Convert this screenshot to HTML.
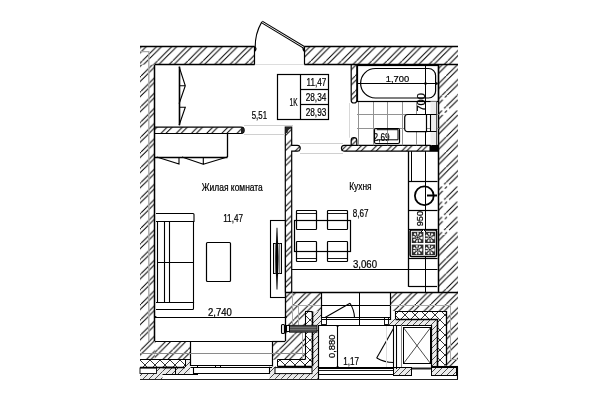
<!DOCTYPE html>
<html><head><meta charset="utf-8"><style>
html,body{margin:0;padding:0;background:#fff;width:600px;height:400px;overflow:hidden}
svg{display:block}
text{font-family:"Liberation Sans",sans-serif} svg{will-change:transform}
</style></head><body>
<svg width="600" height="400" viewBox="0 0 600 400">
<defs>
<pattern id="h" patternUnits="userSpaceOnUse" x="5.6" y="0" width="15.2" height="15.2">
<path d="M-1,16.2 L16.2,-1 M3.9,16.2 L21.1,-1 M-11.3,16.2 L5.9,-1" stroke="#000" stroke-width="1.0"/>
</pattern>
<pattern id="hL" patternUnits="userSpaceOnUse" x="4.3" y="0" width="15.2" height="15.2">
<path d="M-1,16.2 L16.2,-1 M3.6,16.2 L20.8,-1 M-11.6,16.2 L5.6,-1" stroke="#000" stroke-width="1.0"/>
</pattern>
<pattern id="hR" patternUnits="userSpaceOnUse" x="7.0" y="0" width="15.2" height="15.2">
<path d="M-1,16.2 L16.2,-1 M4,16.2 L21.2,-1 M-11.2,16.2 L6,-1" stroke="#000" stroke-width="1.0"/>
</pattern>
<pattern id="hR2" patternUnits="userSpaceOnUse" x="5.4" y="0" width="15.2" height="15.2">
<path d="M-1,16.2 L16.2,-1 M4,16.2 L21.2,-1 M-11.2,16.2 L6,-1" stroke="#000" stroke-width="1.0"/>
</pattern>
<pattern id="hd" patternUnits="userSpaceOnUse" x="5.4" y="0" width="15.2" height="15.2">
<path d="M-1,16.2 L16.2,-1 M-11.2,16.2 L6,-1" stroke="#000" stroke-width="1.0" stroke-dasharray="17 3 20"/>
<path d="M4,16.2 L21.2,-1" stroke="#000" stroke-width="1.0" stroke-dasharray="11 3 20"/>
</pattern>
<pattern id="h2" patternUnits="userSpaceOnUse" x="0" y="0" width="7" height="7">
<path d="M-1,8 L8,-1 M-8,8 L1,-1 M6,8 L15,-1" stroke="#000" stroke-width="0.9"/>
</pattern>
<pattern id="h3" patternUnits="userSpaceOnUse" x="0" y="0" width="6" height="6">
<rect width="6" height="6" fill="#ebebeb"/><path d="M-1,7 L7,-1 M-7,7 L1,-1 M5,7 L13,-1" stroke="#222" stroke-width="0.8"/>
</pattern>
<pattern id="dots" patternUnits="userSpaceOnUse" x="0" y="0" width="3" height="3">
<rect width="3" height="3" fill="#222"/><rect x="1" y="1" width="2" height="2" fill="#d8d8d8"/>
</pattern>
<pattern id="xi" patternUnits="userSpaceOnUse" x="0" y="0" width="10" height="10">
<path d="M0,0 L10,10 M10,0 L0,10" stroke="#000" stroke-width="0.8"/>
</pattern>
</defs>
<rect width="600" height="400" fill="#fff"/>
<rect x="140" y="46.4" width="114.6" height="18.3" fill="url(#h)"/>
<rect x="140" y="64.7" width="14.8" height="295" fill="url(#hL)"/>
<rect x="154.8" y="341" width="35.5" height="19" fill="url(#h)"/>
<rect x="304.4" y="46.4" width="153.6" height="18.1" fill="url(#hR)"/>
<rect x="438.7" y="64.5" width="19.3" height="30.5" fill="url(#hR2)"/>
<rect x="438.7" y="95" width="19.3" height="23" fill="url(#hd)"/>
<rect x="438.7" y="118" width="19.3" height="62" fill="url(#hR2)"/>
<rect x="438.7" y="180" width="19.3" height="55" fill="url(#hd)"/>
<rect x="438.7" y="235" width="19.3" height="58" fill="url(#hR2)"/>
<rect x="154.8" y="127.2" width="89.2" height="6.3" fill="url(#h)"/>
<rect x="285.3" y="127.2" width="6.4" height="165.3" fill="url(#h)"/>
<rect x="291.7" y="145.3" width="8.3" height="5.9" fill="url(#h)"/>
<rect x="341.5" y="145.3" width="88" height="5.9" fill="url(#h)"/>
<rect x="351.2" y="64.5" width="5.6" height="38.5" fill="url(#h)"/>
<rect x="351.2" y="137.7" width="5.6" height="7.6" fill="url(#h)"/>
<line x1="140" y1="46.5" x2="254.6" y2="46.5" stroke="#000" stroke-width="1.3" />
<line x1="254.5" y1="46.4" x2="254.5" y2="64.7" stroke="#000" stroke-width="1.2" />
<line x1="154.8" y1="64.5" x2="254.6" y2="64.5" stroke="#000" stroke-width="1.5" />
<line x1="154.5" y1="64.7" x2="154.5" y2="341" stroke="#000" stroke-width="1.5" />
<line x1="304.4" y1="46.5" x2="458" y2="46.5" stroke="#000" stroke-width="1.3" />
<line x1="304.5" y1="46.4" x2="304.5" y2="64.5" stroke="#000" stroke-width="1.2" />
<line x1="304.4" y1="64.5" x2="458" y2="64.5" stroke="#000" stroke-width="1.5" />
<line x1="438.5" y1="64.5" x2="438.5" y2="293" stroke="#000" stroke-width="1.5" />
<path d="M140,51.6 H148.8 V341" fill="none" stroke="#aaaaaa" stroke-width="1.4" />
<line x1="255" y1="64.5" x2="304" y2="64.5" stroke="#ddd" stroke-width="1" />
<path d="M254.6,47 q2.6,1.5 0,4.2" fill="none" stroke="#000" stroke-width="1.4" />
<path d="M304.4,47 q-2.6,1.5 0,4.2" fill="none" stroke="#000" stroke-width="1.4" />
<path d="M154.8,127.2 H241 A3.15,3.15 0 0 1 241,133.5 H154.8" fill="none" stroke="#000" stroke-width="1.2" />
<path d="M241,127.2 A3.15,3.15 0 0 1 241,133.5 Z" fill="#222"/>
<path d="M285.3,292.5 V127.2 H291.7 V145.3 H297.3 A2.95,2.95 0 0 1 297.3,151.2 H291.7 V292.5" fill="none" stroke="#000" stroke-width="1.2" />
<path d="M285.3,127.2 H291.7 V128.5 Q288,128.5 287.5,133 L285.3,133 Z" fill="#222"/>
<line x1="244" y1="125.5" x2="293" y2="125.5" stroke="#d0d0d0" stroke-width="1" />
<line x1="244" y1="134.5" x2="285" y2="134.5" stroke="#d0d0d0" stroke-width="1" />
<line x1="300" y1="143.5" x2="343" y2="143.5" stroke="#d0d0d0" stroke-width="1" />
<line x1="300" y1="153.5" x2="343" y2="153.5" stroke="#d0d0d0" stroke-width="1" />
<path d="M344.4,145.3 H438.7 M344.4,151.2 H438.7 M344.4,145.3 A2.95,2.95 0 0 0 344.4,151.2" fill="none" stroke="#000" stroke-width="1.2" />
<rect x="429.5" y="145.3" width="9.2" height="5.9" fill="#000"/>
<path d="M351.2,64.5 V100.2 A2.8,2.8 0 0 0 356.8,100.2 V64.5" fill="none" stroke="#000" stroke-width="1.2" />
<path d="M351.2,145.3 V140.5 A2.8,2.8 0 0 1 356.8,140.5 V145.3" fill="none" stroke="#000" stroke-width="1.2" />
<line x1="349.5" y1="103" x2="349.5" y2="137.7" stroke="#d8d8d8" stroke-width="1" />
<path d="M261.8,21.9 L303.9,47.3" fill="none" stroke="#000" stroke-width="2.8" />
<path d="M261.8,21.9 L303.9,47.3" fill="none" stroke="#fff" stroke-width="0.9" />
<path d="M261.8,21.9 A49,49 0 0 0 255.2,47.8" fill="none" stroke="#000" stroke-width="1.1" />
<line x1="179.5" y1="66.7" x2="179.5" y2="125.2" stroke="#000" stroke-width="1.6" />
<path d="M179.1,66.7 L185.3,85.8 L179.1,103.8 M179.1,85.8 H185.3" fill="none" stroke="#000" stroke-width="1.1" />
<path d="M179.1,125.2 L185.3,107.2 H179.1" fill="none" stroke="#000" stroke-width="1.1" />
<line x1="227.5" y1="133.5" x2="227.5" y2="157" stroke="#000" stroke-width="1.3" />
<line x1="154.8" y1="157.5" x2="227.5" y2="157.5" stroke="#000" stroke-width="1.7" />
<path d="M156.75,157 L179,164 V157 M182,157 L203.3,164.3 V157 M203.3,164.3 L227.3,157" fill="none" stroke="#000" stroke-width="1.1" />
<rect x="277.5" y="74.5" width="51.0" height="45.0" rx="0" fill="none" stroke="#000" stroke-width="1.2" />
<line x1="300.5" y1="74.1" x2="300.5" y2="119.2" stroke="#000" stroke-width="1.2" />
<line x1="300.6" y1="89.5" x2="328.1" y2="89.5" stroke="#000" stroke-width="1.2" />
<line x1="300.6" y1="104.5" x2="328.1" y2="104.5" stroke="#000" stroke-width="1.2" />
<text x="326.3" y="85.5" font-size="10.1" text-anchor="end" textLength="19.8" lengthAdjust="spacingAndGlyphs" fill="#000" stroke="#000" stroke-width="0.22" >11,47</text>
<text x="326.3" y="100.5" font-size="10.1" text-anchor="end" textLength="20.6" lengthAdjust="spacingAndGlyphs" fill="#000" stroke="#000" stroke-width="0.22" >28,34</text>
<text x="326.3" y="115.5" font-size="10.1" text-anchor="end" textLength="20.6" lengthAdjust="spacingAndGlyphs" fill="#000" stroke="#000" stroke-width="0.22" >28,93</text>
<text x="289.6" y="105.5" font-size="10.1" textLength="8.0" lengthAdjust="spacingAndGlyphs" fill="#000" stroke="#000" stroke-width="0.22" >1K</text>
<text x="251.75" y="118.75" font-size="10.2" textLength="15.25" lengthAdjust="spacingAndGlyphs" fill="#000" stroke="#000" stroke-width="0.22" >5,51</text>
<text x="201.8" y="190.6" font-size="10.1" textLength="61.0" lengthAdjust="spacingAndGlyphs" fill="#000" stroke="#000" stroke-width="0.22" >Жилая комната</text>
<text x="349.2" y="190.4" font-size="10.0" textLength="22.4" lengthAdjust="spacingAndGlyphs" fill="#000" stroke="#000" stroke-width="0.22" >Кухня</text>
<text x="223.2" y="221.6" font-size="10.1" textLength="19.8" lengthAdjust="spacingAndGlyphs" fill="#000" stroke="#000" stroke-width="0.22" >11,47</text>
<text x="352.75" y="216.5" font-size="10.2" textLength="15.75" lengthAdjust="spacingAndGlyphs" fill="#000" stroke="#000" stroke-width="0.22" >8,67</text>
<text x="208" y="316" font-size="10.5" textLength="23.9" lengthAdjust="spacingAndGlyphs" fill="#000" stroke="#000" stroke-width="0.22" >2,740</text>
<text x="385.8" y="82" font-size="9.95" textLength="23.4" lengthAdjust="spacingAndGlyphs" fill="#000" stroke="#000" stroke-width="0.22" >1,700</text>
<text x="353" y="267.7" font-size="10.2" textLength="24" lengthAdjust="spacingAndGlyphs" fill="#000" stroke="#000" stroke-width="0.22" >3,060</text>
<text x="343.2" y="364.9" font-size="10" textLength="15.8" lengthAdjust="spacingAndGlyphs" fill="#000" stroke="#000" stroke-width="0.22" >1,17</text>
<text x="373.6" y="141.2" font-size="10" textLength="16" lengthAdjust="spacingAndGlyphs" fill="#000" stroke="#000" stroke-width="0.22" >2,69</text>
<text x="424.6" y="111.6" font-size="10" textLength="18.6" lengthAdjust="spacingAndGlyphs" transform="rotate(-90 424.6 111.6)" fill="#000" stroke="#000" stroke-width="0.22" >700</text>
<text x="423.5" y="226.2" font-size="9.5" textLength="15.2" lengthAdjust="spacingAndGlyphs" transform="rotate(-90 423.5 226.2)" fill="#000" stroke="#000" stroke-width="0.22" >950</text>
<text x="335.0" y="358.0" font-size="9.6" textLength="23.4" lengthAdjust="spacingAndGlyphs" transform="rotate(-90 335.0 358.0)" fill="#000" stroke="#000" stroke-width="0.22" >0,880</text>
<line x1="358.5" y1="101" x2="358.5" y2="145.3" stroke="#929292" stroke-width="1" />
<line x1="373.5" y1="101" x2="373.5" y2="145.3" stroke="#929292" stroke-width="1" />
<line x1="387.5" y1="101" x2="387.5" y2="145.3" stroke="#929292" stroke-width="1" />
<line x1="402.5" y1="101" x2="402.5" y2="145.3" stroke="#929292" stroke-width="1" />
<line x1="416.5" y1="101" x2="416.5" y2="145.3" stroke="#929292" stroke-width="1" />
<line x1="431.5" y1="101" x2="431.5" y2="145.3" stroke="#929292" stroke-width="1" />
<line x1="357" y1="114.5" x2="438.7" y2="114.5" stroke="#929292" stroke-width="1" />
<line x1="357" y1="128.5" x2="438.7" y2="128.5" stroke="#929292" stroke-width="1" />
<rect x="357.5" y="65.5" width="81.0" height="36.0" rx="0" fill="none" stroke="#000" stroke-width="1.2" />
<path d="M375.35,68.5 H428.6 A7,7 0 0 1 435.6,75.5 V91 A7,7 0 0 1 428.6,98 H375.35 A14.75,14.75 0 0 1 375.35,68.5 Z" fill="none" stroke="#000" stroke-width="1.2" />
<line x1="357" y1="83.5" x2="437" y2="83.5" stroke="#000" stroke-width="1.1" />
<line x1="425.5" y1="64.5" x2="425.5" y2="145.3" stroke="#000" stroke-width="1.0" />
<circle cx="425.5" cy="83.5" r="1.3" fill="#000"/>
<circle cx="436.5" cy="83.5" r="1.3" fill="#000"/>
<path d="M407.7,114.5 H426.5 V131.7 H407.7 A3,3 0 0 1 404.7,128.7 V117.5 A3,3 0 0 1 407.7,114.5 Z" fill="#fff" stroke="#000" stroke-width="1.2" />
<rect x="430.5" y="101.5" width="6" height="43.5" fill="#eee"/>
<line x1="430.5" y1="114.5" x2="430.5" y2="131.7" stroke="#000" stroke-width="1.1" />
<line x1="436.5" y1="101" x2="436.5" y2="145" stroke="#555" stroke-width="1.0" />
<line x1="426.5" y1="114.5" x2="436.5" y2="114.5" stroke="#000" stroke-width="1" />
<line x1="426.5" y1="131.5" x2="436.5" y2="131.5" stroke="#000" stroke-width="1" />
<rect x="374.5" y="128.5" width="25.0" height="15.0" rx="1.5" fill="none" stroke="#000" stroke-width="1.2" />
<path d="M376.6,129.7 H398 V139.8 H376.6" fill="none" stroke="#000" stroke-width="1.0" />
<path d="M156,213.5 H193 A1,1 0 0 1 194,214.5 V221.5 H156" fill="none" stroke="#000" stroke-width="1.1" />
<path d="M157.5,221.5 V302.5 H193.5 V221.5" fill="none" stroke="#000" stroke-width="1.1" />
<line x1="164.5" y1="221" x2="164.5" y2="302.5" stroke="#000" stroke-width="1.1" />
<line x1="169.5" y1="221" x2="169.5" y2="302.5" stroke="#000" stroke-width="1.1" />
<line x1="157.2" y1="262.5" x2="194" y2="262.5" stroke="#000" stroke-width="1.1" />
<path d="M156,302.5 H193.5 V308.5 A1,1 0 0 1 192.5,309.5 H156" fill="none" stroke="#000" stroke-width="1.1" />
<rect x="206.5" y="242.5" width="24.0" height="39.0" rx="1" fill="none" stroke="#000" stroke-width="1.2" />
<rect x="270.5" y="220.5" width="15.0" height="77.0" rx="0" fill="none" stroke="#000" stroke-width="1.1" />
<rect x="273.5" y="243.5" width="8.0" height="30.0" rx="0" fill="#e2e2e2" stroke="#000" stroke-width="1.0" />
<line x1="275.5" y1="243.5" x2="275.5" y2="273.5" stroke="#666" stroke-width="0.8" />
<line x1="279.5" y1="243.5" x2="279.5" y2="273.5" stroke="#666" stroke-width="0.8" />
<path d="M277,227.8 Q279.6,258.5 277,289.5 Q274.4,258.5 277,227.8 Z" fill="#000" stroke="#000" stroke-width="0.5" />
<line x1="155" y1="317.5" x2="286" y2="317.5" stroke="#000" stroke-width="1.1" />
<circle cx="155.5" cy="317" r="1.1" fill="#000"/>
<circle cx="285.8" cy="317" r="1.1" fill="#000"/>
<rect x="294.5" y="220.5" width="56.0" height="31.0" rx="0" fill="none" stroke="#000" stroke-width="1.2" />
<rect x="296.5" y="210.5" width="20.0" height="19.0" rx="0.8" fill="none" stroke="#000" stroke-width="1.2" />
<line x1="296.4" y1="213.5" x2="316.2" y2="213.5" stroke="#000" stroke-width="0.9" />
<rect x="296.5" y="241.5" width="20.0" height="20.0" rx="0.8" fill="none" stroke="#000" stroke-width="1.2" />
<line x1="296.4" y1="258.5" x2="316.2" y2="258.5" stroke="#000" stroke-width="0.9" />
<rect x="327.5" y="210.5" width="20.0" height="19.0" rx="0.8" fill="none" stroke="#000" stroke-width="1.2" />
<line x1="327.4" y1="213.5" x2="347.2" y2="213.5" stroke="#000" stroke-width="0.9" />
<rect x="327.5" y="241.5" width="20.0" height="20.0" rx="0.8" fill="none" stroke="#000" stroke-width="1.2" />
<line x1="327.4" y1="258.5" x2="347.2" y2="258.5" stroke="#000" stroke-width="0.9" />
<line x1="291.7" y1="269.5" x2="437.5" y2="269.5" stroke="#000" stroke-width="1.1" />
<line x1="408.5" y1="151.2" x2="408.5" y2="286.9" stroke="#000" stroke-width="1.3" />
<line x1="411.5" y1="151.2" x2="411.5" y2="181" stroke="#000" stroke-width="1.0" />
<line x1="425.5" y1="151.2" x2="425.5" y2="292.7" stroke="#000" stroke-width="1.0" />
<line x1="409" y1="181.5" x2="437.5" y2="181.5" stroke="#000" stroke-width="1.2" />
<line x1="409" y1="210.5" x2="437.5" y2="210.5" stroke="#000" stroke-width="1.2" />
<line x1="409" y1="229.5" x2="437.5" y2="229.5" stroke="#000" stroke-width="1.2" />
<line x1="409" y1="258.5" x2="437.5" y2="258.5" stroke="#000" stroke-width="1.2" />
<line x1="408.9" y1="286.5" x2="437" y2="286.5" stroke="#000" stroke-width="1.2" />
<circle cx="424.3" cy="195.7" r="9.4" fill="none" stroke="#000" stroke-width="1.8"/>
<line x1="427" y1="195.5" x2="437" y2="195.5" stroke="#000" stroke-width="2" />
<rect x="410.1" y="230.1" width="26.5" height="26.5" rx="1.5" fill="#fff" stroke="#000" stroke-width="1.5"/>
<rect x="411.8" y="231.8" width="11.6" height="11.2" fill="#2e2e2e"/>
<rect x="425.0" y="231.8" width="10.2" height="11.2" fill="#2e2e2e"/>
<rect x="411.8" y="244.6" width="11.6" height="10.4" fill="#2e2e2e"/>
<rect x="425.0" y="244.6" width="10.2" height="10.4" fill="#2e2e2e"/>
<circle cx="417.6" cy="237.4" r="3.9000000000000004" fill="none" stroke="#f4f4f4" stroke-width="2.4" stroke-dasharray="1.6 1.3"/>
<circle cx="417.6" cy="237.4" r="1.5" fill="#222" stroke="#e8e8e8" stroke-width="0.8"/>
<circle cx="429.9" cy="237.4" r="3.5" fill="none" stroke="#f4f4f4" stroke-width="2.4" stroke-dasharray="1.6 1.3"/>
<circle cx="429.9" cy="237.4" r="1.5" fill="#222" stroke="#e8e8e8" stroke-width="0.8"/>
<circle cx="417.6" cy="249.8" r="3.5" fill="none" stroke="#f4f4f4" stroke-width="2.4" stroke-dasharray="1.6 1.3"/>
<circle cx="417.6" cy="249.8" r="1.5" fill="#222" stroke="#e8e8e8" stroke-width="0.8"/>
<circle cx="429.9" cy="249.8" r="3.5" fill="none" stroke="#f4f4f4" stroke-width="2.4" stroke-dasharray="1.6 1.3"/>
<circle cx="429.9" cy="249.8" r="1.5" fill="#222" stroke="#e8e8e8" stroke-width="0.8"/>
<path d="M421,232 L423.5,229.5 L426,232" fill="#fff" stroke="#000" stroke-width="1" />
<path d="M285.3,292.5 L321.5,292.5 L321.5,311.5 L305,311.5 L305,359.7 L272.3,359.7 L272.3,341 L285.3,341 Z" fill="url(#h)"/>
<path d="M390.3,292.7 L458,292.7 L458,367 L446,367 L446,311 L390.3,311 Z" fill="url(#h)"/>
<path d="M311.5,311.5 L321.5,311.5 L321.5,325 L318,325 L318,378.8 L269.5,378.8 L269.5,366.4 L311.5,366.4 Z" fill="url(#h3)"/>
<path d="M388,319 L437.5,319 L437.5,367 L431,367 L431,325 L388,325 Z" fill="url(#h3)"/>
<path d="M431,367 L456,367 L456,375.5 L431,375.5 Z" fill="url(#h3)"/>
<path d="M393.5,367.5 L411,367.5 L411,375.5 L393.5,375.5 Z" fill="url(#h3)"/>
<path d="M162.5,367.5 L175,367.5 L175,374 L162.5,374 Z" fill="url(#h3)"/>
<path d="M140,373.5 L157,373.5 L157,367.5 L162.5,367.5 L162.5,379 L140,379 Z" fill="url(#h3)"/>
<path d="M185,359.5 L190,359.5 L190,374 L176,374 L176,367.5 L185,367.5 Z" fill="url(#h3)"/>
<rect x="275" y="367.6" width="37" height="6" fill="#fff" stroke="#000" stroke-width="1"/>
<rect x="140" y="368" width="16.5" height="5.5" fill="#fff" stroke="#000" stroke-width="0.9"/>
<rect x="305" y="311.5" width="6.5" height="54.9" fill="url(#xi)"/>
<rect x="277.4" y="359.7" width="34.1" height="6.7" fill="url(#xi)"/>
<rect x="140" y="359.5" width="45" height="7.5" fill="url(#xi)"/>
<rect x="395.5" y="311" width="50.5" height="8" fill="url(#xi)"/>
<rect x="437.5" y="319" width="8.5" height="46.5" fill="url(#xi)"/>
<line x1="285.3" y1="292.5" x2="458" y2="292.5" stroke="#000" stroke-width="1.3" />
<line x1="321.5" y1="292.5" x2="321.5" y2="318" stroke="#000" stroke-width="1.2" />
<line x1="390.5" y1="292.7" x2="390.5" y2="320" stroke="#000" stroke-width="1.2" />
<line x1="285.5" y1="292.5" x2="285.5" y2="341" stroke="#000" stroke-width="1.3" />
<line x1="272.3" y1="341.5" x2="285.3" y2="341.5" stroke="#000" stroke-width="1.2" />
<line x1="272.5" y1="341" x2="272.5" y2="366.4" stroke="#000" stroke-width="1.2" />
<line x1="154.8" y1="341.5" x2="190.3" y2="341.5" stroke="#000" stroke-width="1.2" />
<line x1="190.5" y1="341" x2="190.5" y2="366" stroke="#000" stroke-width="1.2" />
<line x1="190.3" y1="341.5" x2="272.3" y2="341.5" stroke="#000" stroke-width="1.1" />
<line x1="305" y1="311.5" x2="312" y2="311.5" stroke="#000" stroke-width="1.1" />
<line x1="305.5" y1="311.5" x2="305.5" y2="359.7" stroke="#000" stroke-width="1.1" />
<line x1="312.5" y1="311.5" x2="312.5" y2="366.4" stroke="#000" stroke-width="1.6" />
<line x1="277.4" y1="366.5" x2="312" y2="366.5" stroke="#000" stroke-width="1.6" />
<line x1="277.4" y1="359.5" x2="305" y2="359.5" stroke="#000" stroke-width="1.0" />
<line x1="277.5" y1="359.7" x2="277.5" y2="366.4" stroke="#000" stroke-width="1.0" />
<line x1="318.5" y1="325" x2="318.5" y2="379" stroke="#000" stroke-width="1.2" />
<line x1="140" y1="359.5" x2="190.3" y2="359.5" stroke="#000" stroke-width="1.1" />
<line x1="140" y1="367.5" x2="185" y2="367.5" stroke="#000" stroke-width="1.5" />
<line x1="185.5" y1="359.5" x2="185.5" y2="367" stroke="#000" stroke-width="1.0" />
<line x1="395.5" y1="311.5" x2="446" y2="311.5" stroke="#000" stroke-width="1.1" />
<line x1="395.5" y1="311" x2="395.5" y2="319" stroke="#000" stroke-width="1.1" />
<line x1="446.5" y1="311" x2="446.5" y2="365.5" stroke="#000" stroke-width="1.3" />
<line x1="395.5" y1="319.5" x2="437.5" y2="319.5" stroke="#000" stroke-width="1.6" />
<line x1="437.5" y1="319" x2="437.5" y2="367" stroke="#000" stroke-width="1.6" />
<line x1="388" y1="325.5" x2="431" y2="325.5" stroke="#000" stroke-width="1.2" />
<line x1="431.5" y1="325" x2="431.5" y2="367" stroke="#000" stroke-width="1.2" />
<line x1="431" y1="366.5" x2="458" y2="366.5" stroke="#000" stroke-width="1.1" />
<line x1="162.5" y1="367.5" x2="175" y2="367.5" stroke="#000" stroke-width="1.6" />
<line x1="175.5" y1="367.5" x2="175.5" y2="374" stroke="#000" stroke-width="1.0" />
<line x1="162.5" y1="374.5" x2="198" y2="374.5" stroke="#000" stroke-width="1.0" />
<line x1="140" y1="353.5" x2="305" y2="353.5" stroke="#8a8a8a" stroke-width="1.2" />
<line x1="292.5" y1="292.5" x2="292.5" y2="325" stroke="#ababab" stroke-width="1" />
<line x1="292.5" y1="305.5" x2="321" y2="305.5" stroke="#ababab" stroke-width="1" />
<line x1="298.5" y1="305.5" x2="298.5" y2="325" stroke="#ababab" stroke-width="1" />
<line x1="302.5" y1="330" x2="302.5" y2="359" stroke="#ababab" stroke-width="1" />
<line x1="390.3" y1="305.5" x2="450.5" y2="305.5" stroke="#ababab" stroke-width="1" />
<line x1="450.5" y1="305.3" x2="450.5" y2="359.7" stroke="#ababab" stroke-width="1" />
<line x1="450.5" y1="359.5" x2="458" y2="359.5" stroke="#ababab" stroke-width="1" />
<line x1="190.5" y1="365.5" x2="272" y2="365.5" stroke="#000" stroke-width="1.0" />
<line x1="190.5" y1="367.5" x2="272" y2="367.5" stroke="#000" stroke-width="1.1" />
<path d="M193.5,367.5 V373.5 H269.5 V367.5" fill="none" stroke="#000" stroke-width="1.1" />
<line x1="197.5" y1="365.2" x2="197.5" y2="367.2" stroke="#000" stroke-width="1" />
<line x1="215.5" y1="365.2" x2="215.5" y2="367.2" stroke="#000" stroke-width="1" />
<line x1="220.5" y1="365.2" x2="220.5" y2="367.2" stroke="#000" stroke-width="1" />
<line x1="140" y1="379.5" x2="458" y2="379.5" stroke="#222" stroke-width="1.1" />
<line x1="457.5" y1="367" x2="457.5" y2="379" stroke="#000" stroke-width="1.1" />
<line x1="321.5" y1="305.5" x2="390.3" y2="305.5" stroke="#000" stroke-width="1.0" />
<line x1="359.5" y1="292.8" x2="359.5" y2="325" stroke="#000" stroke-width="1.0" />
<path d="M325,317.5 L350,303.3" fill="none" stroke="#000" stroke-width="1.1" />
<path d="M350,303.3 A29,29 0 0 1 354.5,317.5" fill="none" stroke="#000" stroke-width="1.1" />
<line x1="321.5" y1="317.5" x2="390.3" y2="317.5" stroke="#000" stroke-width="1.0" />
<line x1="321.5" y1="319.5" x2="390.3" y2="319.5" stroke="#000" stroke-width="1.0" />
<rect x="321.5" y="317.5" width="5.0" height="7.0" rx="0" fill="none" stroke="#000" stroke-width="0.9" />
<rect x="384.5" y="317.5" width="4.0" height="7.0" rx="0" fill="none" stroke="#000" stroke-width="0.9" />
<line x1="318" y1="325.5" x2="393.5" y2="325.5" stroke="#000" stroke-width="1.2" />
<line x1="318" y1="367.5" x2="394" y2="367.5" stroke="#000" stroke-width="1.0" />
<line x1="318" y1="368.5" x2="394" y2="368.5" stroke="#000" stroke-width="1.0" />
<line x1="318" y1="370.5" x2="393.5" y2="370.5" stroke="#000" stroke-width="0.9" />
<line x1="318" y1="374.5" x2="393.5" y2="374.5" stroke="#000" stroke-width="1.0" />
<line x1="337.5" y1="367" x2="337.5" y2="369" stroke="#000" stroke-width="1" />
<line x1="354.5" y1="367" x2="354.5" y2="369" stroke="#000" stroke-width="1" />
<line x1="358.5" y1="367" x2="358.5" y2="369" stroke="#000" stroke-width="1" />
<line x1="337.5" y1="325.5" x2="337.5" y2="367.1" stroke="#000" stroke-width="1.1" />
<circle cx="337.6" cy="326" r="1.1" fill="#000"/>
<circle cx="337.6" cy="367" r="1.1" fill="#000"/>
<path d="M393.5,328.5 L376.7,358" fill="none" stroke="#000" stroke-width="1.1" />
<path d="M376.7,358 A34,34 0 0 0 393.5,362.5" fill="none" stroke="#000" stroke-width="1.1" />
<line x1="386.5" y1="326" x2="386.5" y2="367" stroke="#ddd" stroke-width="1" />
<line x1="393.5" y1="325" x2="393.5" y2="369" stroke="#000" stroke-width="1.1" />
<line x1="396.5" y1="325" x2="396.5" y2="369" stroke="#000" stroke-width="1.1" />
<line x1="401.5" y1="325" x2="401.5" y2="367" stroke="#888" stroke-width="1.0" />
<rect x="403.5" y="327.5" width="27.0" height="36.0" rx="0" fill="none" stroke="#000" stroke-width="1.0" />
<line x1="403.5" y1="327.7" x2="430.5" y2="363.5" stroke="#000" stroke-width="0.7" />
<line x1="430.5" y1="327.7" x2="403.5" y2="363.5" stroke="#000" stroke-width="0.7" />
<line x1="411" y1="368.5" x2="431" y2="368.5" stroke="#222" stroke-width="2" />
<rect x="431.5" y="367.5" width="25.0" height="8.0" rx="0" fill="none" stroke="#000" stroke-width="1.0" />
<rect x="393.5" y="367.5" width="18.0" height="8.0" rx="0" fill="none" stroke="#000" stroke-width="1.0" />
<rect x="289.5" y="325.3" width="27.5" height="6.9" fill="#4a4a4a" stroke="#111" stroke-width="0.8"/>
<line x1="290" y1="327.5" x2="316.5" y2="327.5" stroke="#888" stroke-width="0.6" />
<line x1="290" y1="329.5" x2="316.5" y2="329.5" stroke="#888" stroke-width="0.6" />
<rect x="281.5" y="324.5" width="3.0" height="9.0" rx="1" fill="#eee" stroke="#000" stroke-width="1.1" />
<rect x="286.5" y="325.5" width="3.0" height="6.0" rx="0" fill="#eee" stroke="#000" stroke-width="1.0" />
</svg>
</body></html>
